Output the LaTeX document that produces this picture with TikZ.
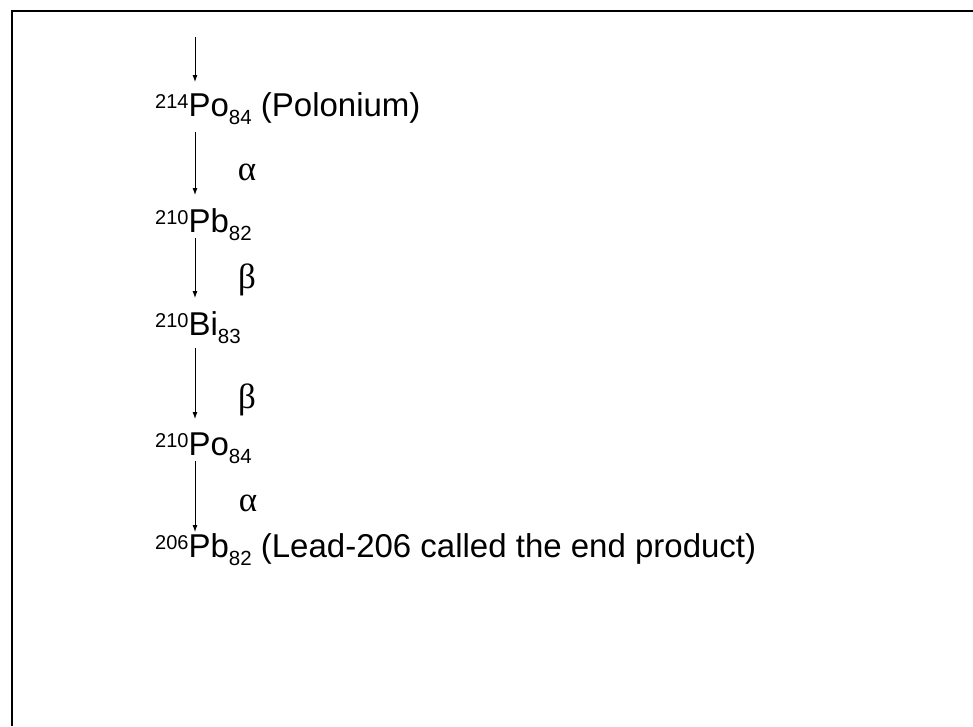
\documentclass[tikz,border=0pt]{standalone}
\usepackage{fontspec}
\setmainfont{Liberation Sans}
\newfontfamily\greekfont{Liberation Serif}
\usetikzlibrary{arrows.meta}

\newcommand\upnum[1]{\raisebox{8pt}{\fontsize{20}{20}\selectfont #1}}
\newcommand\dnnum[1]{\raisebox{-8pt}{\fontsize{20.5}{20}\selectfont #1}}

\begin{document}
\begin{tikzpicture}[x=1pt,y=1pt,
    nuc/.style={anchor=base west,inner sep=0pt,font=\fontsize{33}{38}\selectfont},
    ray/.style={inner sep=0pt,font=\greekfont\fontsize{35}{40}\selectfont},
    arr/.style={-{Latex[length=7pt,width=5pt]},line width=0.9pt}
  ]
    \useasboundingbox (0,0) rectangle (973,-726);
    % frame: only top and left edges show
    \draw[line width=2pt] (12,-726) -- (12,-11) -- (973,-11);

    \coordinate (top) at (195,-37);
    \node[nuc] (po214) at (155,-116) {\upnum{214}Po\dnnum{84} (Polonium)};
    \node[nuc] (pb210) at (155,-232) {\upnum{210}Pb\dnnum{82}};
    \node[nuc] (bi210) at (155,-335) {\upnum{210}Bi\dnnum{83}};
    \node[nuc] (po210) at (155,-455) {\upnum{210}Po\dnnum{84}};
    \node[nuc] (pb206) at (155,-557) {\upnum{206}Pb\dnnum{82} (Lead-206 called the end product)};

    \node[ray] (alpha1) at (247,-172) {α};
    \node[ray] (beta1) at (247,-280) {β};
    \node[ray] (beta2) at (247,-400) {β};
    \node[ray] (alpha2) at (248,-503) {α};

    \draw[arr] (top) -- ([shift={(40,34)}]po214.base west);
    \draw[arr] ([shift={(40,-16)}]po214.base west) -- ([shift={(40,37)}]pb210.base west);
    \draw[arr] ([shift={(40,-6)}]pb210.base west) -- ([shift={(40,37)}]bi210.base west);
    \draw[arr] ([shift={(40,-13)}]bi210.base west) -- ([shift={(40,36)}]po210.base west);
    \draw[arr] ([shift={(40,-6)}]po210.base west) -- ([shift={(40,25)}]pb206.base west);
  \end{tikzpicture}
\end{document}
